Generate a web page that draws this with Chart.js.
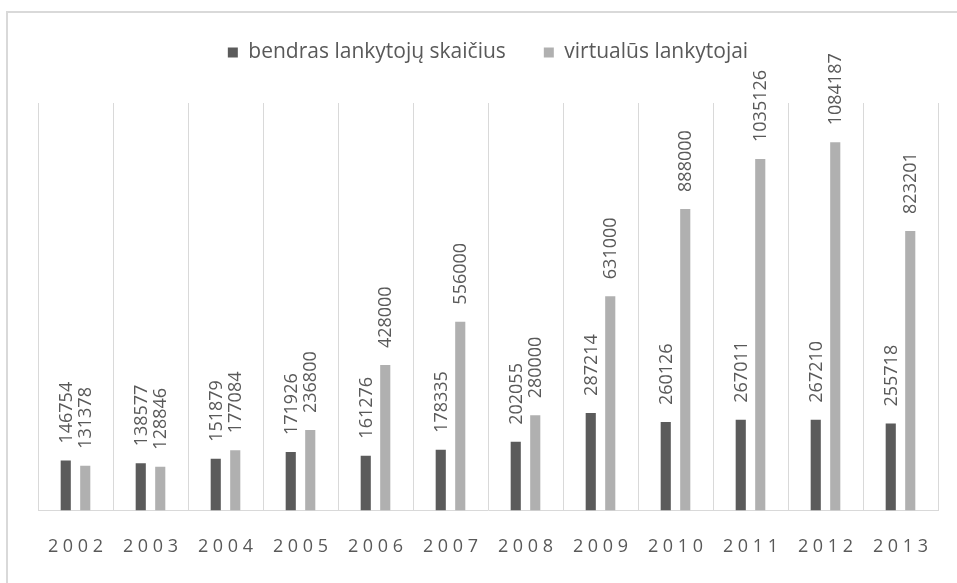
<!DOCTYPE html>
<html>
<head>
<meta charset="utf-8">
<script src="https://cdn.jsdelivr.net/npm/chart.js@4"></script>
<style>
    html, body { margin: 0; padding: 0; background: #fff; }
    #wrap { position: relative; width: 957px; height: 583px; overflow: hidden; }
    #frame {
        position: absolute; left: 6px; top: 11px; width: 1000px; height: 1000px;
        border-left: 2px solid #d9d9d9; border-top: 2px solid #d9d9d9;
        pointer-events: none;
    }
    canvas { position: absolute; left: 0; top: 0; }
</style>
</head>
<body>
<div id="wrap">
    <canvas id="visitorsChart" width="957" height="583"></canvas>
    <div id="frame"></div>
</div>
<script>
// 数据
const years = ['2002', '2003', '2004', '2005', '2006', '2007', '2008', '2009', '2010', '2011', '2012', '2013'];
const totalVisitors = [146754, 138577, 151879, 171926, 161276, 178335, 202055, 287214, 260126, 267011, 267210, 255718];
const virtualVisitors = [131378, 128846, 177084, 236800, 428000, 556000, 280000, 631000, 888000, 1035126, 1084187, 823201];
const seriesNames = ['bendras lankytojų skaičius', 'virtualūs lankytojai'];

const textColor = '#595959';
const gridColor = '#d9d9d9';
const labelFont = "'Open Sans', sans-serif";

// 柱顶数值标签（竖排）
const barValueLabels = {
    id: 'barValueLabels',
    afterDatasetsDraw(chart) {
        const ctx = chart.ctx;
        ctx.save();
        ctx.font = '18px ' + labelFont;
        ctx.fillStyle = textColor;
        ctx.textAlign = 'left';
        ctx.textBaseline = 'middle';
        chart.data.datasets.forEach((ds, i) => {
            const meta = chart.getDatasetMeta(i);
            meta.data.forEach((bar, j) => {
                ctx.save();
                ctx.translate(bar.x, bar.y - 17);
                ctx.rotate(-Math.PI / 2);
                ctx.fillText(String(ds.data[j]), 0, 1);
                ctx.restore();
            });
        });
        ctx.restore();
    }
};

// 图例和绘图区之间留出空白
const legendSpacing = {
    id: 'legendSpacing',
    beforeLayout(chart) {
        const legend = chart.legend;
        if (legend && !legend._spacingPatched) {
            const fit = legend.fit;
            legend.fit = function() {
                fit.call(this);
                this.height = 99;
            };
            legend._spacingPatched = true;
        }
    }
};

new Chart(document.getElementById('visitorsChart'), {
    type: 'bar',
    data: {
        labels: years,
        datasets: [{
            label: seriesNames[0],
            data: totalVisitors,
            backgroundColor: '#5b5b5b',
            borderWidth: 0,
            categoryPercentage: 0.52,
            barPercentage: 0.52
        }, {
            label: seriesNames[1],
            data: virtualVisitors,
            backgroundColor: '#b0b0b0',
            borderWidth: 0,
            categoryPercentage: 0.52,
            barPercentage: 0.52
        }]
    },
    options: {
        responsive: false,
        devicePixelRatio: 1,
        animation: false,
        layout: {
            padding: { top: 4, left: 38, right: 19, bottom: 0 }
        },
        scales: {
            x: {
                grid: { color: gridColor, lineWidth: 1, drawTicks: false, offset: true },
                border: { display: true, color: gridColor, width: 1 },
                ticks: {
                    color: textColor,
                    padding: 25.5,
                    font: { family: labelFont, size: 18 },
                    maxRotation: 0,
                    callback: function(value) {
                        return this.getLabelForValue(value).split('').join(' ');
                    }
                }
            },
            y: {
                display: false,
                min: 0,
                max: 1200000
            }
        },
        plugins: {
            legend: {
                position: 'top',
                align: 'center',
                labels: {
                    boxWidth: 10,
                    boxHeight: 10,
                    padding: 38,
                    color: textColor,
                    font: { family: labelFont, size: 21 }
                }
            },
            tooltip: { enabled: false }
        }
    },
    plugins: [barValueLabels, legendSpacing]
});
</script>
</body>
</html>
